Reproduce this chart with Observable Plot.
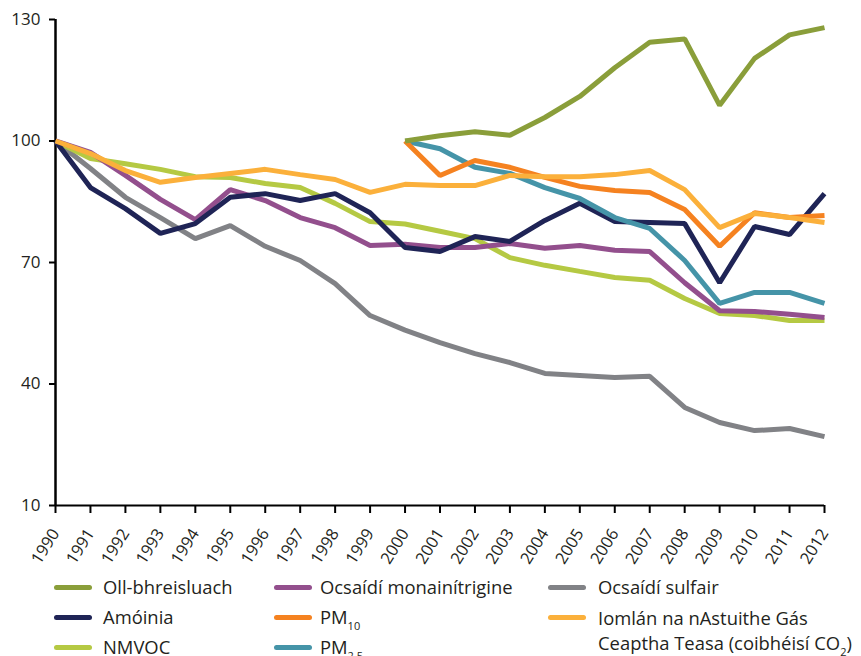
<!DOCTYPE html>
<html><head><meta charset="utf-8">
<script src="https://cdn.jsdelivr.net/npm/d3@7"></script>
<script src="https://cdn.jsdelivr.net/npm/@observablehq/plot@0.6"></script>
<style>
body{margin:0;background:#fff;font-family:"Open Sans",sans-serif;}
#wrap{position:relative;width:861px;height:656px;overflow:hidden;}
#legend{position:absolute;left:0;top:0;width:861px;height:656px;
  font-family:"Open Sans",sans-serif;font-size:18.4px;color:#231f20;}
.sw{position:absolute;width:38px;height:5px;border-radius:3px;}
.lbl{position:absolute;line-height:30px;white-space:pre;}
.lbl.multi{line-height:25px;}
sub{font-size:11px;line-height:0;vertical-align:-6px;}
</style></head><body><div id="wrap"><div id="chart"></div><div id="legend"></div></div>
<script>
const years = d3.range(1990, 2013);
const seriesNames = ["Oll-bhreisluach","Amóinia","NMVOC","Ocsaídí monainítrigine","PM|10","PM|2.5","Ocsaídí sulfair","Iomlán na nAstuithe Gás\nCeaptha Teasa (coibhéisí CO|2|)"];
const seriesColors = ["#8a9e3a","#1f2456","#b5c943","#934f8d","#f58220","#4594a8","#818286","#fbb03b"];
const legendCol = [0,0,0,1,1,1,2,2];
const legendRow = [0,1,2,0,1,2,0,1];
const yTicks = [10,40,70,100,130];

const gva     = [null,null,null,null,null,null,null,null,null,null,100,101.3,102.3,101.4,105.8,111,118.1,124.4,125.2,108.8,120.4,126.2,128];
const ammonia = [100,88.5,83.3,77.2,79.6,86.1,87,85.3,87,82.3,73.7,72.7,76.4,75.2,80.4,84.6,80.1,79.9,79.6,65,78.9,76.9,87];
const nmvoc   = [100,95.7,94.4,93,91.2,91,89.5,88.5,84.6,80.1,79.5,77.7,75.9,71.2,69.3,67.8,66.3,65.6,61.1,57.4,56.9,55.7,55.7];
const nox     = [100,97.2,91.5,85.6,80.6,88,85.3,81.1,78.6,74.2,74.5,73.7,73.7,74.7,73.5,74.2,73,72.7,65,58.1,57.9,57.2,56.4];
const pm10    = [null,null,null,null,null,null,null,null,null,null,100,91.5,95.2,93.5,91,88.8,87.8,87.3,83.1,74,82.3,81.1,81.6];
const pm25    = [null,null,null,null,null,null,null,null,null,null,100,98.1,93.5,92,88.5,85.8,81.1,78.4,70.5,59.9,62.6,62.6,59.9];
const so2     = [100,93.2,86.1,81.1,75.9,79.1,74,70.5,64.8,56.9,53.3,50.2,47.5,45.3,42.6,42.1,41.6,41.9,34.2,30.5,28.5,29,27];
const ghg     = [100,96.9,92.7,89.8,91,92,93,91.7,90.5,87.3,89.3,89,89,91.5,91.2,91.2,91.7,92.7,88,78.6,82.1,81.1,79.9];
const seriesValues = [gva, ammonia, nmvoc, nox, pm10, pm25, so2, ghg];
const drawOrder = [6,2,3,1,5,4,7,0];

const rows = [];
for (const s of drawOrder) {
  years.forEach((yr, i) => { const v = seriesValues[s][i]; if (v != null) rows.push({s, year: yr, value: v}); });
}

const chart = Plot.plot({
  width: 861, height: 571,
  marginLeft: 55, marginRight: 37, marginTop: 19, marginBottom: 66,
  style: {fontFamily: "'Open Sans', sans-serif", fontSize: "17px", color: "#231f20", background: "#fff"},
  x: {domain: [1990, 2012]},
  y: {domain: [10, 130]},
  marks: [
    Plot.axisX({ticks: years, tickFormat: d => String(d), tickSize: 8, tickRotate: -58, tickPadding: 17, fontSize: 16.5, stroke: "#000", strokeWidth: 2, label: null}),
    Plot.axisY({ticks: yTicks, tickSize: 6, tickPadding: 9, stroke: "#000", strokeWidth: 2, label: null}),
    Plot.ruleY([10], {stroke: "#000", strokeWidth: 2}),
    Plot.ruleX([1990], {stroke: "#000", strokeWidth: 2.5}),
    Plot.line(rows, {x: "year", y: "value", z: "s", stroke: d => seriesColors[d.s], strokeWidth: 5, strokeLinejoin: "miter", strokeLinecap: "butt"})
  ]
});
document.getElementById("chart").appendChild(chart);

const colSwatchX = [54, 274, 548];
const colTextX = [103, 320, 598];
const rowTop = 572, rowH = 30;
const legend = document.getElementById("legend");
seriesNames.forEach((name, i) => {
  const top = rowTop + legendRow[i] * rowH;
  const sw = document.createElement("div");
  sw.className = "sw"; sw.style.background = seriesColors[i];
  sw.style.left = colSwatchX[legendCol[i]] + "px"; sw.style.top = (top + 13) + "px";
  const lb = document.createElement("div");
  const multi = name.includes("\n");
  lb.className = "lbl" + (multi ? " multi" : "");
  lb.style.left = colTextX[legendCol[i]] + "px"; lb.style.top = (multi ? top + 3 : top) + "px";
  const parts = name.split("|");
  parts.forEach((p, k) => {
    if (k % 2 === 1) { const sb = document.createElement("sub"); sb.textContent = p; lb.appendChild(sb); }
    else lb.appendChild(document.createTextNode(p));
  });
  legend.appendChild(sw); legend.appendChild(lb);
});
</script></body></html>
